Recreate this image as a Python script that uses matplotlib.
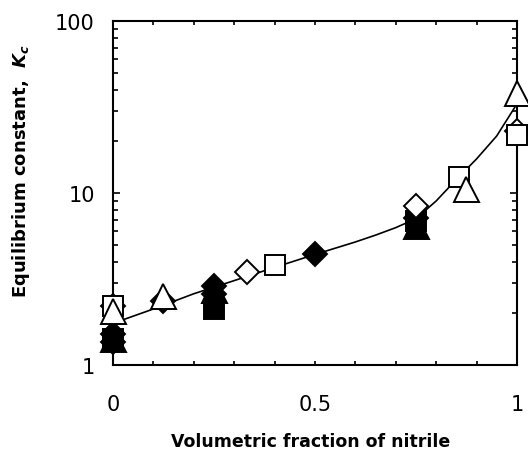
import matplotlib
matplotlib.use('Agg')
import matplotlib.pyplot as plt
from matplotlib.ticker import MultipleLocator, FixedLocator, LogLocator, NullFormatter

# data
curve_x = [0.0, 0.1, 0.2, 0.3, 0.4, 0.5, 0.6, 0.65, 0.7, 0.75, 0.8, 0.85, 0.9, 0.95, 1.0]
curve_k = [1.75, 2.12, 2.6, 3.1, 3.7, 4.4, 5.2, 5.7, 6.3, 7.1, 9.0, 12.0, 15.8, 21.5, 33.0]

open_sq_x = [0.0, 0.40, 0.857, 1.0]
open_sq_k = [2.2, 3.81, 12.4, 21.8]
open_dia_x = [0.0, 0.333, 0.75, 1.0]
open_dia_k = [2.2, 3.47, 8.4, 23.0]
open_tri_x = [0.0, 0.125, 0.875, 1.0]
open_tri_k = [2.07, 2.52, 10.6, 38.0]

fill_sq_x = [0.0, 0.25, 0.75]
fill_sq_k = [1.42, 2.12, 6.9]
fill_dia_x = [0.0, 0.0, 0.125, 0.25, 0.25, 0.5, 0.75]
fill_dia_k = [1.51, 1.36, 2.35, 2.9, 2.59, 4.42, 7.2]
fill_tri_x = [0.0, 0.25, 0.75]
fill_tri_k = [1.41, 2.75, 6.4]

fig = plt.figure(figsize=(5.28, 4.52), dpi=100)
ax = fig.add_axes([0.214, 0.190, 0.765, 0.761])

ax.plot(curve_x, curve_k, color='black', lw=1.2, zorder=2)

mk = dict(linestyle='none', mec='black', mew=1.4, clip_on=False)
ax.plot(fill_sq_x, fill_sq_k, marker='s', ms=14, mfc='black', zorder=3, **mk)
ax.plot(fill_tri_x, fill_tri_k, marker='^', ms=18, mfc='black', zorder=3, **mk)
ax.plot(fill_dia_x, fill_dia_k, marker='D', ms=12.5, mfc='black', zorder=3, **mk)
ax.plot(open_dia_x, open_dia_k, marker='D', ms=12.5, mfc='white', zorder=4, **mk)
ax.plot(open_sq_x, open_sq_k, marker='s', ms=14, mfc='white', zorder=4, **mk)
ax.plot(open_tri_x, open_tri_k, marker='^', ms=18, mfc='white', zorder=5, **mk)

ax.set_yscale('log')
ax.set_xlim(0, 1.0)
ax.set_ylim(1, 100)

ax.xaxis.set_major_locator(FixedLocator([0, 0.5, 1.0]))
ax.xaxis.set_minor_locator(MultipleLocator(0.1))
ax.set_xticklabels(['0', '0.5', '1'])
ax.yaxis.set_major_locator(FixedLocator([1, 10, 100]))
ax.yaxis.set_minor_locator(LogLocator(base=10, subs=range(2, 10)))
ax.yaxis.set_minor_formatter(NullFormatter())
ax.set_yticklabels(['1', '10', '100'])

ax.tick_params(which='both', direction='in', top=True, right=True, width=1.2, labelsize=15)
ax.tick_params(axis='y', which='major', length=5, pad=13)
ax.tick_params(axis='y', which='minor', length=3.5)
ax.tick_params(axis='x', which='both', length=3, pad=21)

for s in ax.spines.values():
    s.set_linewidth(1.5)

ax.set_xlabel('Volumetric fraction of nitrile', fontsize=12.5, fontweight='bold')
ax.xaxis.set_label_coords(0.49, -0.195)
ax.set_ylabel(r'Equilibrium constant,  $\mathbfit{K}_{\mathbfit{c}}$', fontsize=13, fontweight='bold')
ax.yaxis.set_label_coords(-0.2, 0.567)

fig.savefig('out.png', dpi=100)
